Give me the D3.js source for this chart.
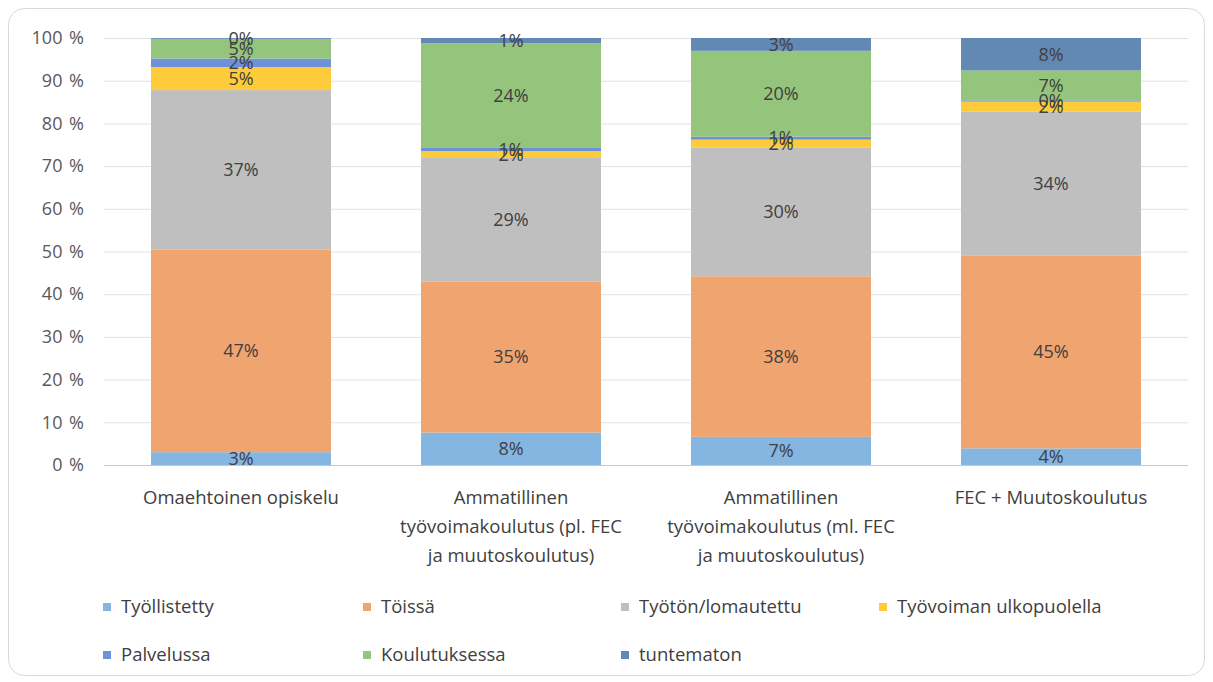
<!DOCTYPE html>
<html>
<head>
<meta charset="utf-8">
<script src="https://cdn.jsdelivr.net/npm/d3@7"></script>
<style>
  html, body { margin: 0; padding: 0; background: #fff; }
  svg { display: block; }
</style>
</head>
<body>
<svg id="chart" width="1213" height="682"></svg>
<script>
// ---- data ----
const categories = [
  ["Omaehtoinen opiskelu"],
  ["Ammatillinen", "työvoimakoulutus (pl. FEC", "ja muutoskoulutus)"],
  ["Ammatillinen", "työvoimakoulutus (ml. FEC", "ja muutoskoulutus)"],
  ["FEC + Muutoskoulutus"]
];
const seriesNames = ["Työllistetty", "Töissä", "Työtön/lomautettu", "Työvoiman ulkopuolella", "Palvelussa", "Koulutuksessa", "tuntematon"];
const tyollistetty   = [3.0, 7.6, 6.6, 3.9];
const toissa         = [47.4, 35.4, 37.6, 45.2];
const tyoton         = [37.4, 28.9, 30.2, 33.7];
const ulkopuolella   = [5.4, 1.6, 1.8, 2.3];
const palvelussa     = [2.0, 0.9, 0.7, 0.3];
const koulutuksessa  = [4.6, 24.4, 20.1, 7.0];
const tuntematon     = [0.2, 1.2, 3.0, 7.6];
const yTicks = [0, 10, 20, 30, 40, 50, 60, 70, 80, 90, 100];
const colors = ["#85B5E1", "#F0A46F", "#BFBFBF", "#FECC3A", "#6F91D8", "#95C47C", "#6289B4"];

const seriesValues = [tyollistetty, toissa, tyoton, ulkopuolella, palvelussa, koulutuksessa, tuntematon];
const rows = categories.map((c, i) => {
  const r = { idx: i };
  seriesNames.forEach((s, j) => r[s] = seriesValues[j][i]);
  return r;
});

const svg = d3.select("#chart");
const font = "'Open Sans', 'Noto Sans', sans-serif";

// card border
svg.append("rect")
  .attr("x", 8.5).attr("y", 8.5).attr("width", 1196).attr("height", 667)
  .attr("rx", 16).attr("fill", "#fff").attr("stroke", "#D9D9D9").attr("stroke-width", 1);

const x = d3.scaleBand().domain(d3.range(categories.length)).range([106, 1186])
  .paddingInner(1/3).paddingOuter(1/6);
const y = d3.scaleLinear().domain([0, 100]).range([465, 38]);

// gridlines
svg.append("g").selectAll("line").data(yTicks.filter(t => t > 0)).join("line")
  .attr("x1", 104).attr("x2", 1188)
  .attr("y1", d => y(d) + 0.5).attr("y2", d => y(d) + 0.5)
  .attr("stroke", "#E3E3E3").attr("stroke-width", 1);

// y axis labels
const yAxis = d3.axisLeft(y).tickValues(yTicks).tickSize(0).tickPadding(0)
  .tickFormat(d => d + " %");
const gy = svg.append("g").attr("transform", "translate(84,0)").call(yAxis);
gy.select(".domain").remove();
gy.selectAll("text").attr("font-family", font).attr("font-size", 18).attr("fill", "#595959")
  .attr("word-spacing", 2);

// stacked bars
const stack = d3.stack().keys(seriesNames);
const stacked = stack(rows);

const layers = svg.append("g").selectAll("g").data(stacked).join("g")
  .attr("fill", (d, i) => colors[i]);
layers.selectAll("rect").data(d => d).join("rect")
  .attr("x", d => x(d.data.idx))
  .attr("width", x.bandwidth())
  .attr("y", d => y(d[1]))
  .attr("height", d => y(d[0]) - y(d[1]));

// baseline
svg.append("line").attr("x1", 104).attr("x2", 1188)
  .attr("y1", y(0) + 0.5).attr("y2", y(0) + 0.5)
  .attr("stroke", "#C8C8C8").attr("stroke-width", 1);

// data labels
const labels = svg.append("g");
stacked.forEach(layer => {
  labels.selectAll(null).data(layer).join("text")
    .attr("x", d => x(d.data.idx) + x.bandwidth() / 2)
    .attr("y", d => (y(d[0]) + y(d[1])) / 2)
    .attr("dy", "0.35em")
    .attr("text-anchor", "middle")
    .attr("font-family", font).attr("font-size", 18)
    .attr("fill", "#404040")
    .text(d => Math.round(d[1] - d[0]) + "%");
});

// category labels
const xg = svg.append("g");
categories.forEach((lines, i) => {
  const t = xg.append("text")
    .attr("x", x(i) + x.bandwidth() / 2)
    .attr("y", 504)
    .attr("text-anchor", "middle")
    .attr("font-family", font).attr("font-size", 18.5)
    .attr("fill", "#404040");
  lines.forEach((ln, k) => {
    t.append("tspan").attr("x", x(i) + x.bandwidth() / 2)
      .attr("dy", k === 0 ? 0 : 29).text(ln);
  });
});

// legend
const legendPos = [[103, 607], [363, 607], [621, 607], [879, 607], [103, 655], [363, 655], [621, 655]];
const lg = svg.append("g").selectAll("g").data(seriesNames).join("g")
  .attr("transform", (d, i) => `translate(${legendPos[i][0]},${legendPos[i][1]})`);
lg.append("rect").attr("x", 0).attr("y", -4).attr("width", 8).attr("height", 8)
  .attr("fill", (d, i) => colors[i]);
lg.append("text").attr("x", 18).attr("y", 0).attr("dy", "0.35em")
  .attr("font-family", font).attr("font-size", 18.5).attr("fill", "#404040")
  .text(d => d);
</script>
</body>
</html>
